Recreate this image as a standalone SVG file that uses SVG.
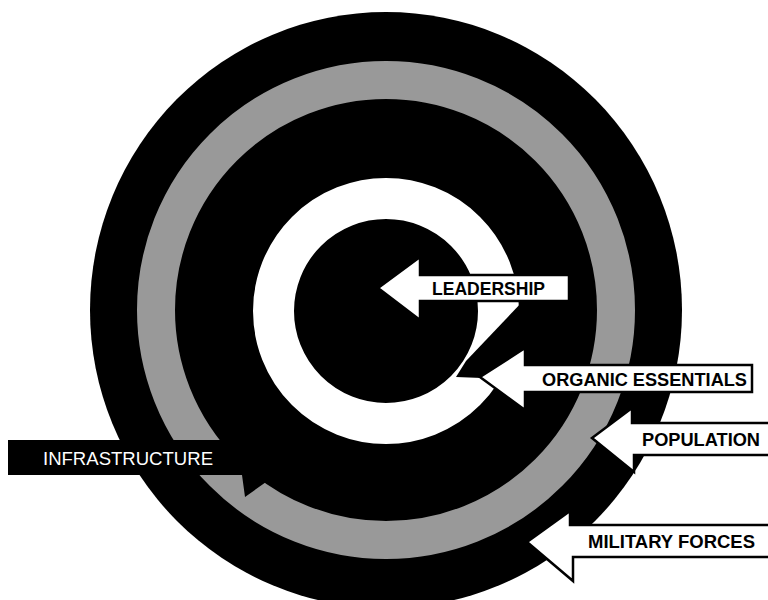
<svg xmlns="http://www.w3.org/2000/svg" width="768" height="600" viewBox="0 0 768 600">
  <defs>
    <style>
      .lbl { font-family: "Liberation Sans", Arial, sans-serif; font-size: 18px; font-weight: bold; fill: #000; }
      .lblw { font-family: "Liberation Sans", Arial, sans-serif; font-size: 18px; font-weight: normal; fill: #fff; }
      .warrow { fill: #fff; stroke: #000; stroke-width: 2.5; stroke-linejoin: miter; }
      .barrow { fill: #000; stroke: none; }
    </style>
  </defs>
  <rect x="0" y="0" width="768" height="600" fill="#fff"/>

  <g id="rings">
    <ellipse id="outer-ring" cx="386" cy="310" rx="296" ry="298" fill="#000"/>
    <circle id="gray-ring" cx="386" cy="310" r="230" fill="none" stroke="#999" stroke-width="38"/>
    <circle id="white-ring" cx="386" cy="311" r="112.5" fill="none" stroke="#fff" stroke-width="41"/>
    <polygon id="white-ring-gap" points="524,300 466,361 456,377 482,378 540,345 540,300" fill="#000"/>
  </g>

  <g id="connectors"></g>

  <g id="infrastructure">
    <path class="barrow" d="M8,440 L242,440 L242,418 L300,458 L245,497 L242,475 L8,475 Z"/>
    <text class="lblw" x="43" y="465" textLength="170" lengthAdjust="spacingAndGlyphs">INFRASTRUCTURE</text>
  </g>

  <g id="leadership">
    <path class="warrow" d="M378,288 L420,257 L420,275 L569,275 L569,301 L420,301 L420,320 Z"/>
    <text class="lbl" x="432" y="295" textLength="113" lengthAdjust="spacingAndGlyphs">LEADERSHIP</text>
  </g>

  <g id="organic-essentials">
    <path class="warrow" d="M480,377 L525,348 L525,365 L752,365 L752,392 L525,392 L525,410 Z"/>
    <text class="lbl" x="542" y="385.5" textLength="205" lengthAdjust="spacingAndGlyphs">ORGANIC ESSENTIALS</text>
  </g>

  <g id="population">
    <path class="warrow" d="M592,438 L632,408 L632,423 L772,423 L772,455 L634,455 L634,472 Z"/>
    <text class="lbl" x="642" y="445.5" textLength="118" lengthAdjust="spacingAndGlyphs">POPULATION</text>
  </g>

  <g id="military-forces">
    <path class="warrow" d="M527,542 L570,511 L570,525 L772,525 L772,557 L573,557 L573,581 Z"/>
    <text class="lbl" x="588" y="548" textLength="167" lengthAdjust="spacingAndGlyphs">MILITARY FORCES</text>
  </g>
</svg>
